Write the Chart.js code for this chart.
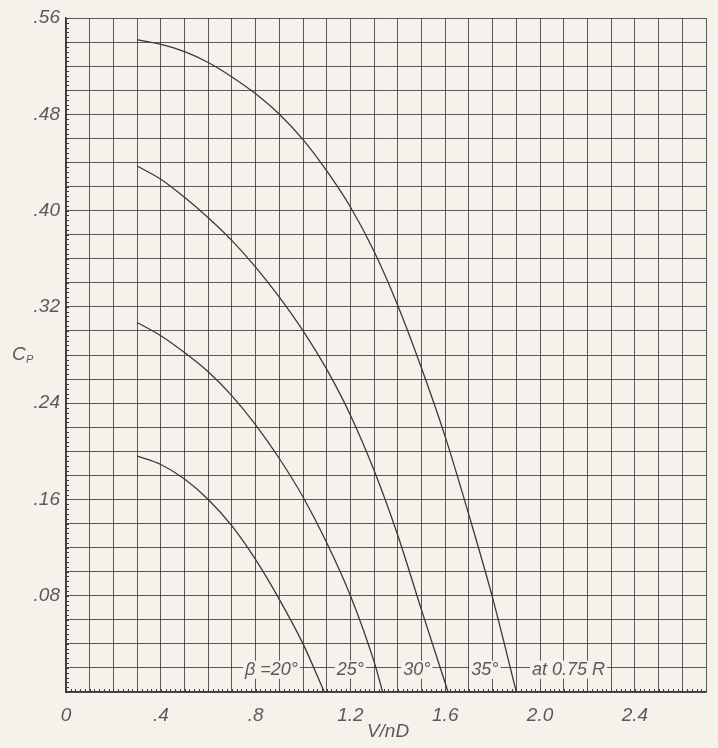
<!DOCTYPE html>
<html>
<head>
<meta charset="utf-8">
<script src="https://cdn.jsdelivr.net/npm/chart.js@4"></script>
<style>
  html, body { margin: 0; padding: 0; background: #f4f2ea; }
  #wrap { width: 718px; height: 748px; }
</style>
</head>
<body>
<div id="wrap"><canvas id="cp"></canvas></div>
<script>
"use strict";

// V/nD values and power coefficient Cp for each blade angle
const x20 = [0.3, 0.4, 0.5, 0.6, 0.7, 0.8, 0.9, 1.0, 1.09];
const cp20 = [0.196, 0.189, 0.177, 0.160, 0.138, 0.110, 0.077, 0.040, 0];

const x25 = [0.3, 0.4, 0.5, 0.6, 0.7, 0.8, 0.9, 1.0, 1.1, 1.2, 1.3, 1.336];
const cp25 = [0.307, 0.296, 0.282, 0.266, 0.246, 0.222, 0.194, 0.162, 0.124, 0.080, 0.025, 0];

const x30 = [0.3, 0.4, 0.5, 0.6, 0.7, 0.8, 0.9, 1.0, 1.1, 1.2, 1.3, 1.4, 1.5, 1.612];
const cp30 = [0.437, 0.426, 0.411, 0.394, 0.375, 0.353, 0.328, 0.300, 0.268, 0.230, 0.184, 0.130, 0.068, 0];

const x35 = [0.3, 0.4, 0.5, 0.6, 0.7, 0.8, 0.9, 1.0, 1.1, 1.2, 1.3, 1.4, 1.5, 1.6, 1.7, 1.8, 1.9];
const cp35 = [0.542, 0.538, 0.532, 0.523, 0.511, 0.497, 0.480, 0.459, 0.433, 0.403, 0.366, 0.321, 0.269, 0.212, 0.147, 0.078, 0];

// curve labels along the bottom: [text, V/nD centre]
const curveLabels = [
  ["\u03B2 =20\u00B0", 0.867],
  ["25\u00B0", 1.2],
  ["30\u00B0", 1.48],
  ["35\u00B0", 1.767],
  ["at 0.75 R", 2.12],
];
const labelCp = 0.0185;

const paper = "#f4f2ea";
const ink = "#3a3a3a";
const textInk = "#5a5a5a";
const fontFam = "'Liberation Sans', 'DejaVu Sans', sans-serif";

function series(xs, ys) {
  return xs.map((x, i) => ({ x: x, y: ys[i] }));
}

function curve(xs, ys) {
  return {
    data: series(xs, ys),
    borderColor: ink,
    borderWidth: 1.3,
    pointRadius: 0,
    fill: false,
    cubicInterpolationMode: "monotone",
  };
}

const paperPlugin = {
  id: "paper",
  beforeDraw(chart) {
    const c = chart.ctx;
    c.save();
    c.fillStyle = paper;
    c.fillRect(0, 0, chart.width, chart.height);
    c.restore();
  },
};

const extrasPlugin = {
  id: "extras",
  afterDatasetsDraw(chart) {
    const c = chart.ctx;
    const xs = chart.scales.x;
    const ys = chart.scales.y;
    const area = chart.chartArea;
    c.save();

    // minor ticks along the axes
    c.strokeStyle = ink;
    c.lineWidth = 1;
    c.beginPath();
    for (let i = 0; i <= 140; i++) {
      const py = Math.round(ys.getPixelForValue(i * 0.004)) + 0.5;
      c.moveTo(area.left, py);
      c.lineTo(area.left + 3, py);
    }
    for (let i = 0; i <= 135; i++) {
      const px = Math.round(xs.getPixelForValue(i * 0.02)) + 0.5;
      c.moveTo(px, area.bottom);
      c.lineTo(px, area.bottom - 3);
    }
    c.stroke();

    // blade angle labels sitting on the grid line
    c.font = "italic 18px " + fontFam;
    c.textAlign = "center";
    c.textBaseline = "middle";
    const ly = ys.getPixelForValue(labelCp);
    curveLabels.forEach(([txt, v]) => {
      const lx = xs.getPixelForValue(v);
      const w = c.measureText(txt).width;
      c.fillStyle = paper;
      c.fillRect(lx - w / 2 - 2, ly - 9, w + 4, 18);
      c.fillStyle = textInk;
      c.fillText(txt, lx, ly);
    });

    // axis titles
    c.font = "italic 19px " + fontFam;
    c.fillStyle = textInk;
    c.textAlign = "center";
    c.fillText("V/nD", 388, 732);
    c.textAlign = "left";
    c.fillText("C", 12, 355);
    c.font = "italic 11px " + fontFam;
    c.fillText("P", 26, 360);
    c.restore();
  },
};

new Chart(document.getElementById("cp"), {
  type: "line",
  data: {
    datasets: [curve(x20, cp20), curve(x25, cp25), curve(x30, cp30), curve(x35, cp35)],
  },
  plugins: [paperPlugin, extrasPlugin],
  options: {
    responsive: true,
    maintainAspectRatio: false,
    animation: false,
    layout: { padding: { top: 18, right: 4, left: 0, bottom: 0 } },
    plugins: { legend: { display: false }, tooltip: { enabled: false } },
    scales: {
      x: {
        type: "linear",
        min: 0,
        max: 2.7,
        afterFit: (s) => { s.height = 56; },
        grid: { color: "rgba(50,50,50,0.8)", lineWidth: 1, drawTicks: false },
        border: { color: ink, width: 1.5 },
        ticks: {
          stepSize: 0.1,
          autoSkip: false,
          maxRotation: 0,
          padding: 12,
          color: textInk,
          font: { family: fontFam, size: 19, style: "italic" },
          callback: (v) => {
            const k = Math.round(v * 10);
            if (k % 4 !== 0) return "";
            if (k === 0) return "0";
            return (k / 10).toFixed(1).replace(/^0/, "");
          },
        },
      },
      y: {
        type: "linear",
        min: 0,
        max: 0.56,
        afterFit: (s) => { s.width = 66; },
        grid: { color: "rgba(50,50,50,0.8)", lineWidth: 1, drawTicks: false },
        border: { color: ink, width: 1.5 },
        ticks: {
          stepSize: 0.02,
          autoSkip: false,
          padding: 6,
          color: textInk,
          font: { family: fontFam, size: 19, style: "italic" },
          callback: (v) => {
            const k = Math.round(v * 100);
            if (k === 0 || k % 8 !== 0) return "";
            return (k / 100).toFixed(2).replace(/^0/, "");
          },
        },
      },
    },
  },
});
</script>
</body>
</html>
